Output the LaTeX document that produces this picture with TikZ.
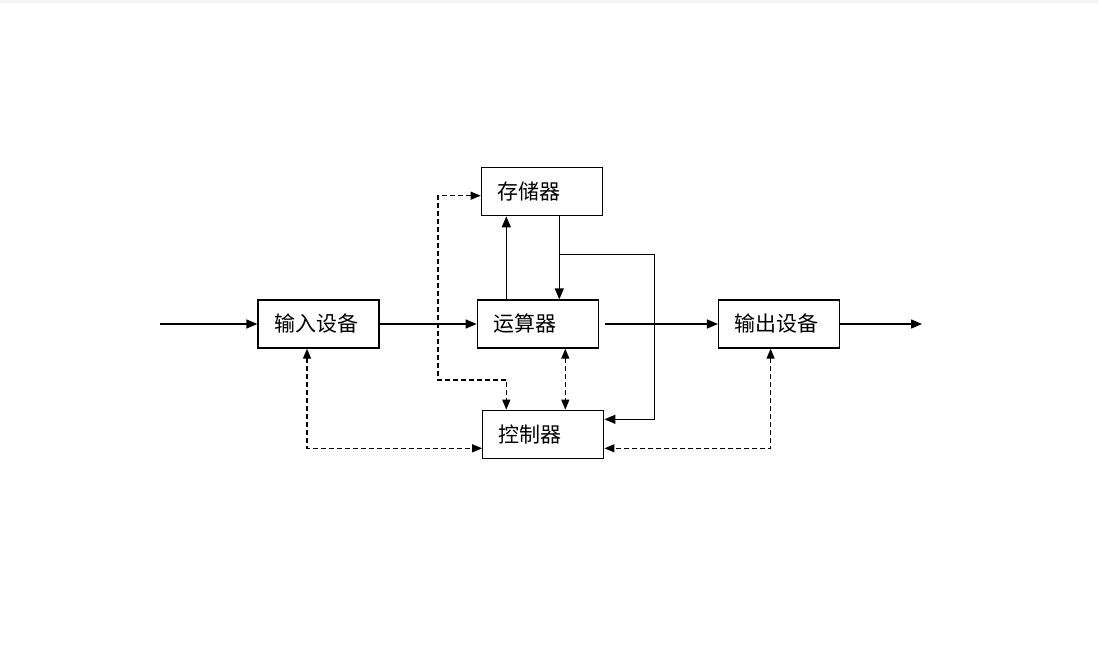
\documentclass[tikz,border=0pt]{standalone}
\usepackage{fontspec}
\newfontfamily\cjk{Noto Sans CJK SC}
\usetikzlibrary{arrows.meta,positioning}
\definecolor{topstrip}{HTML}{F5F5F5}

\begin{document}
\begin{tikzpicture}[
  x=1pt, y=-1pt,
  font=\cjk\fontsize{21}{25}\selectfont,
  box/.style={draw, line width=1.3pt, align=left, text width=89pt, inner xsep=16pt, inner ysep=2pt, minimum height=48pt},
  arr/.style={-{Triangle[length=11pt,width=9pt]}, line width=1.3pt},
  darr/.style={{Triangle[length=10pt,width=8pt]}-{Triangle[length=10pt,width=8pt]}, line width=1.3pt, dash pattern=on 5pt off 3pt}
]
\useasboundingbox (0,0) rectangle (1099,648);
\fill[topstrip] (0,0) rectangle (1099,3);
\node[box] (in) at (318.5,324) {输入设备};
\node[box, right=97pt of in] (alu) {运算器};
\node[box, right=119pt of alu] (out) {输出设备};
\node[box, above=83pt of alu, xshift=4pt] (mem) {存储器};
\node[box, below=61pt of alu, xshift=5.5pt] (ctrl) {控制器};
\coordinate (src) at (160,324);
\coordinate (sink) at (922,324);
\coordinate (lp) at (438,380);
\draw[arr] (src) -- (in);
\draw[arr] (in) -- (alu);
\draw[arr, shorten <=6pt] (alu) -- (out);
\draw[arr] (out) -- (sink);
\draw[arr] ([xshift=-31.5pt]alu.north) -- ([xshift=-31.5pt]alu.north |- mem.south);
\draw[arr] ([xshift=17.5pt]mem.south) -- ([xshift=17.5pt]mem.south |- alu.north);
\draw[arr] ([xshift=17.5pt,yshift=-38pt]mem.south) -- ++(95pt,0) |- ([yshift=15pt]ctrl.east);
\draw[darr] ([yshift=-4pt]mem.west) -| (lp) -| ([xshift=-37pt]ctrl.north);
\draw[darr] ([xshift=27.5pt]alu.south) -- ([xshift=27.5pt]alu.south |- ctrl.north);
\draw[darr] ([xshift=-11.5pt]in.south) |- ([yshift=-14pt]ctrl.west);
\draw[darr] ([xshift=-8.5pt]out.south) |- ([yshift=-14pt]ctrl.east);
\end{tikzpicture}
\end{document}
